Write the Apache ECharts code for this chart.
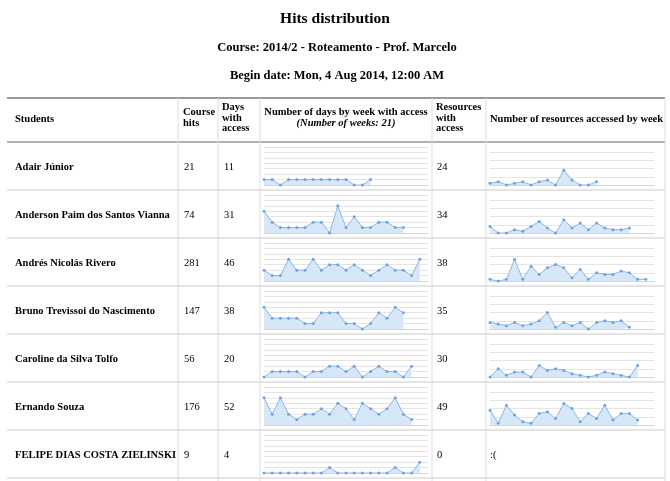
<!DOCTYPE html>
<html>
<head>
<meta charset="utf-8">
<script src="https://cdn.jsdelivr.net/npm/echarts@6/dist/echarts.min.js"></script>
<style>
  html, body { margin: 0; padding: 0; background: #fff; }
  #chart { width: 670px; height: 481px; }
</style>
</head>
<body>
<div id="chart"></div>
<script>
// data
const weeks = ['1', '2', '3', '4', '5', '6', '7', '8', '9', '10', '11',
  '12', '13', '14', '15', '16', '17', '18', '19', '20', '21'];
const students = [
  'Adair Júnior',
  'Anderson Paim dos Santos Vianna',
  'Andrés Nicolás Rivero',
  'Bruno Trevissoi do Nascimento',
  'Caroline da Silva Tolfo',
  'Ernando Souza',
  'FELIPE DIAS COSTA ZIELINSKI'
];
const courseHits = [21, 74, 281, 147, 56, 176, 9];
const daysWithAccess = [11, 31, 46, 38, 20, 52, 4];
const resourcesWithAccess = [24, 34, 38, 35, 30, 49, 0];

const daysAdair = [1, 1, 0, 1, 1, 1, 1, 1, 1, 1, 1, 0, 0, 1];
const daysAnderson = [4, 2, 1, 1, 1, 1, 2, 2, 0, 5, 1, 3, 1, 1, 2, 2, 1, 1];
const daysAndres = [2, 1, 1, 4, 2, 2, 4, 2, 3, 3, 2, 3, 2, 1, 2, 3, 2, 2, 1, 4];
const daysBruno = [4, 2, 2, 2, 2, 1, 1, 3, 3, 3, 1, 1, 0, 1, 3, 2, 4, 3];
const daysCaroline = [0, 1, 1, 1, 1, 0, 1, 1, 2, 2, 1, 2, 0, 1, 2, 1, 1, 0, 2];
const daysErnando = [5, 2, 5, 2, 1, 2, 2, 3, 2, 4, 3, 1, 4, 3, 2, 3, 5, 2, 1];
const daysFelipe = [0, 0, 0, 0, 0, 0, 0, 0, 1, 0, 0, 0, 0, 0, 0, 0, 1, 0, 0, 2];

const resAdair = [1, 2, 0, 1, 2, 0, 2, 3, 0, 9, 3, 0, 0, 2];
const resAnderson = [4, 0, 0, 2, 1, 4, 7, 3, 0, 8, 3, 6, 2, 6, 3, 2, 2, 3];
const resAndres = [1, 0, 1, 13, 1, 9, 4, 8, 10, 8, 2, 7, 1, 5, 4, 4, 6, 5, 1, 1];
const resBruno = [4, 3, 2, 4, 2, 3, 5, 10, 1, 4, 2, 4, 0, 4, 5, 4, 5, 1];
const resCaroline = [0, 5, 1, 3, 3, 0, 7, 4, 5, 4, 2, 1, 0, 1, 3, 2, 1, 0, 7];
const resErnando = [9, 1, 12, 6, 2, 1, 7, 8, 4, 13, 10, 2, 7, 4, 12, 3, 7, 7, 3];

const daysByWeek = [daysAdair, daysAnderson, daysAndres, daysBruno, daysCaroline, daysErnando, daysFelipe];
const resourcesByWeek = [resAdair, resAnderson, resAndres, resBruno, resCaroline, resErnando, null];

const myChart = echarts.init(document.getElementById('chart'));

const FONT = '"Liberation Serif", "DejaVu Serif", serif';
const tableTop = 98;
const headBottom = 142;
const rowH = 48;
const colX = [7, 178, 218, 260, 432, 486, 665];

const grid = [];
const xAxis = [];
const yAxis = [];
const series = [];
const graphic = [];

const text = (str, x, y, opt) => Object.assign({
  type: 'text',
  silent: true,
  style: Object.assign({
    text: str, x: x, y: y,
    fontFamily: FONT, fontSize: 10.5, fontWeight: 'bold',
    fill: '#000', align: 'left', verticalAlign: 'middle'
  }, opt || {})
});
const line = (x1, y1, x2, y2, color, w) => ({
  type: 'line',
  silent: true,
  shape: { x1: x1, y1: y1, x2: x2, y2: y2 },
  style: { stroke: color, lineWidth: w }
});

// headings
graphic.push(text('Hits distribution', 335, 19, { fontSize: 15.5, align: 'center' }));
graphic.push(text('Course: 2014/2 - Roteamento - Prof. Marcelo', 337, 48, { fontSize: 12.5, align: 'center' }));
graphic.push(text('Begin date: Mon, 4 Aug 2014, 12:00 AM', 337, 76, { fontSize: 12.5, align: 'center' }));

// table lines
graphic.push(line(colX[0], tableTop, colX[6], tableTop, '#9a9a9a', 2));
graphic.push(line(colX[0], headBottom, colX[6], headBottom, '#b0b0b0', 2));
for (let i = 1; i <= students.length; i++) {
  const y = headBottom + rowH * i;
  graphic.push(line(colX[0], y, colX[6], y, '#dcdcdc', 1.5));
}
for (let c = 1; c < colX.length; c++) {
  graphic.push(line(colX[c], tableTop, colX[c], 481, '#dcdcdc', 1));
}

// header cells
graphic.push(text('Students', 15, 119));
graphic.push(text('Course', 183, 112.5));
graphic.push(text('hits', 183, 123));
graphic.push(text('Days', 222, 107.5));
graphic.push(text('with', 222, 118));
graphic.push(text('access', 222, 128.5));
graphic.push(text('Number of days by week with access', 346, 112.5, { align: 'center' }));
graphic.push(text('(Number of weeks: 21)', 346, 123, { align: 'center', fontStyle: 'italic' }));
graphic.push(text('Resources', 436, 107.5));
graphic.push(text('with', 436, 118));
graphic.push(text('access', 436, 128.5));
graphic.push(text('Number of resources accessed by week', 490, 119));

const lineColor = '#8ab6e8';
const dotColor = '#6fa3e0';
const areaColor = '#d8e7f8';

students.forEach((name, i) => {
  const top = headBottom + rowH * i;
  const cy = top + 25;
  graphic.push(text(name, 15, cy));
  graphic.push(text(String(courseHits[i]), 184, cy, { fontWeight: 'normal' }));
  graphic.push(text(String(daysWithAccess[i]), 224, cy, { fontWeight: 'normal' }));
  graphic.push(text(String(resourcesWithAccess[i]), 437, cy, { fontWeight: 'normal' }));

  const charts = [
    { data: daysByWeek[i], left: 264, top: top + 5, height: 38, max: 7, interval: 1 },
    { data: resourcesByWeek[i], left: 490, top: top + 10, height: 33, max: 20, interval: 5 }
  ];
  charts.forEach((c) => {
    if (!c.data) {
      graphic.push(text(':(', 490, cy, { fontWeight: 'normal' }));
      return;
    }
    const idx = grid.length;
    grid.push({ left: c.left, top: c.top, width: 164, height: c.height });
    xAxis.push({
      type: 'category', gridIndex: idx, data: weeks, boundaryGap: false,
      axisLine: { show: true, lineStyle: { color: '#c4d9f2', width: 1 } },
      axisTick: { show: false }, axisLabel: { show: false }, splitLine: { show: false }
    });
    yAxis.push({
      type: 'value', gridIndex: idx, min: 0, max: c.max, interval: c.interval,
      axisLine: { show: false }, axisTick: { show: false }, axisLabel: { show: false },
      splitLine: { lineStyle: { color: '#e4e4e4', width: 1 } }
    });
    series.push({
      type: 'line', xAxisIndex: idx, yAxisIndex: idx, data: c.data,
      symbol: 'circle', symbolSize: 3, showSymbol: true,
      lineStyle: { color: lineColor, width: 1 },
      itemStyle: { color: dotColor },
      areaStyle: { color: areaColor, opacity: 1 },
      silent: true
    });
  });
});

const option = {
  backgroundColor: '#fff',
  animation: false,
  grid: grid,
  xAxis: xAxis,
  yAxis: yAxis,
  series: series,
  graphic: graphic
};

myChart.setOption(option);
</script>
</body>
</html>
